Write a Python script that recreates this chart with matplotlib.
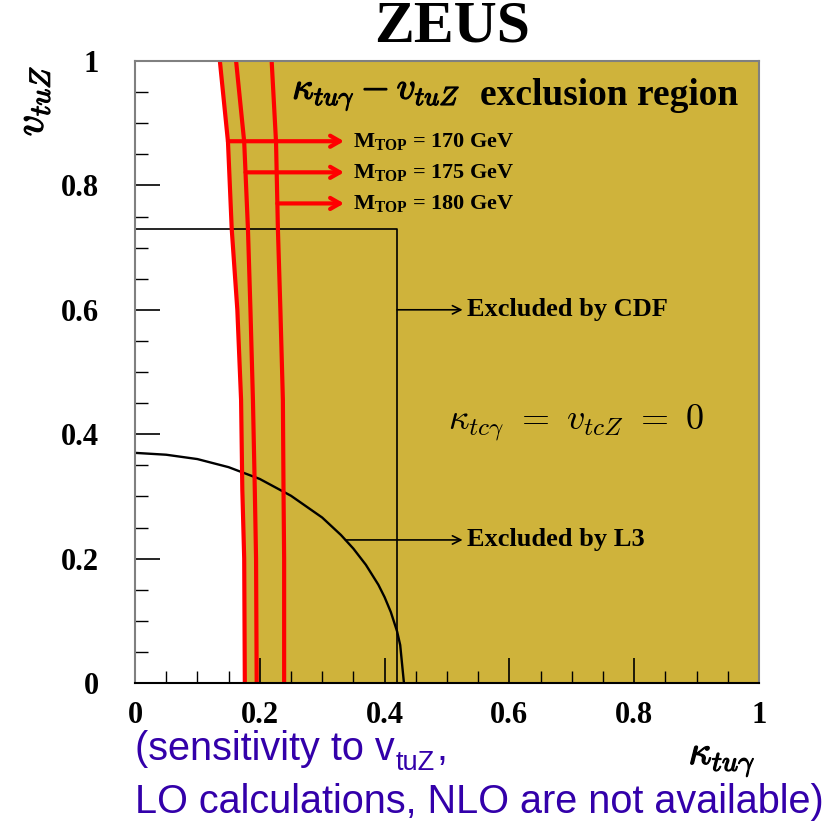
import numpy as np
import matplotlib
matplotlib.use("Agg")
import matplotlib.pyplot as plt
import matplotlib.patheffects as pe

plt.rcParams["mathtext.fontset"] = "custom"
plt.rcParams["mathtext.rm"] = "Liberation Serif:bold"
plt.rcParams["mathtext.bf"] = "Liberation Serif:bold"
plt.rcParams["mathtext.it"] = "Liberation Serif:bold:italic"

# Exclusion contours (kappa_tu_gamma, v_tuZ) for three top masses
v_grid = [0.0, 0.2, 0.31, 0.455, 0.6, 0.73, 0.87, 1.0]
kappa_m170 = [0.176, 0.175, 0.172, 0.170, 0.164, 0.155, 0.149, 0.136]
kappa_m175 = [0.195, 0.194, 0.192, 0.189, 0.185, 0.181, 0.175, 0.162]
kappa_m180 = [0.239, 0.239, 0.238, 0.237, 0.233, 0.229, 0.226, 0.219]
mass_labels = ["170", "175", "180"]
arrow_v = [0.871, 0.821, 0.771]

# CDF limit (box) and L3 limit (curve)
cdf_kappa = 0.42
cdf_v = 0.73
l3_kappa = [0.0, 0.05, 0.10, 0.15, 0.20, 0.25, 0.30, 0.33, 0.35, 0.37, 0.39, 0.40, 0.41, 0.42, 0.425, 0.431]
l3_v = [0.370, 0.367, 0.360, 0.347, 0.328, 0.301, 0.266, 0.238, 0.216, 0.190, 0.158, 0.138, 0.114, 0.083, 0.061, 0.0]

xticks = [0, 0.2, 0.4, 0.6, 0.8, 1]
xticklabels = ["0", "0.2", "0.4", "0.6", "0.8", "1"]
yticks = [0, 0.2, 0.4, 0.6, 0.8, 1]
yticklabels = ["0", "0.2", "0.4", "0.6", "0.8", "1"]

gold = "#CFB33B"
serif = "Liberation Serif"
W, H = 834, 822
heavy = [pe.withStroke(linewidth=0.9, foreground="black")]

fig = plt.figure(figsize=(W / 100, H / 100), dpi=100)
ax = fig.add_axes([135 / W, 1 - 683 / H, 624 / W, 622 / H])
ax.set_xlim(0, 1)
ax.set_ylim(0, 1)

# excluded region right of the M_TOP = 170 GeV contour
ax.fill_betweenx(v_grid, kappa_m170, 1.0, color=gold, lw=0, zorder=1)

# CDF box and L3 curve
ax.plot([0, cdf_kappa, cdf_kappa], [cdf_v, cdf_v, 0], color="black", lw=1.2, zorder=3)
ax.plot(l3_kappa, l3_v, color="black", lw=1.7, zorder=3)

for kap in (kappa_m170, kappa_m175, kappa_m180):
    ax.plot(kap, v_grid, color="red", lw=3.0, zorder=4, solid_capstyle="butt")

# red arrows with mass labels
for kap, v, m in zip((kappa_m170, kappa_m175, kappa_m180), arrow_v, mass_labels):
    x0 = np.interp(v, v_grid, kap)
    ax.annotate("", xy=(0.335, v), xytext=(x0, v),
                arrowprops=dict(arrowstyle="->,head_length=0.7,head_width=0.4",
                                color="red", lw=3.0, shrinkA=0, shrinkB=0), zorder=5)
    ax.text(0.35, v, r"$\mathrm{M}_{\mathrm{TOP}}$ = " + m + " GeV", fontsize=16,
            family=serif, fontweight="bold", va="center", ha="left", zorder=6)

# black arrows for CDF / L3
ax.annotate("", xy=(0.525, 0.60), xytext=(cdf_kappa, 0.60),
            arrowprops=dict(arrowstyle="->,head_length=0.6,head_width=0.3",
                            color="black", lw=1.2, shrinkA=0, shrinkB=0), zorder=5)
ax.text(0.532, 0.60, "Excluded by CDF", fontsize=19, family=serif, fontweight="bold",
        va="center", ha="left")
l3_arrow_v = 0.23
l3_arrow_start = np.interp(-l3_arrow_v, [-v for v in l3_v], l3_kappa)
ax.annotate("", xy=(0.525, l3_arrow_v), xytext=(l3_arrow_start, l3_arrow_v),
            arrowprops=dict(arrowstyle="->,head_length=0.6,head_width=0.3",
                            color="black", lw=1.2, shrinkA=0, shrinkB=0), zorder=5)
ax.text(0.532, l3_arrow_v, "Excluded by L3", fontsize=19, family=serif, fontweight="bold",
        va="center", ha="left")

ax.text(0.707, 0.418, r"$\kappa_{tc\gamma}\ =\ v_{tcZ}\ =\ 0$", fontsize=26,
        math_fontfamily="cm", ha="center", va="center")

ax.text(0.252, 0.945, r"$\kappa_{tu\gamma} - v_{tuZ}$", fontsize=27,
        math_fontfamily="cm", ha="left", va="center", path_effects=heavy)
ax.text(0.553, 0.945, "exclusion region", fontsize=27, family=serif,
        fontweight="bold", ha="left", va="center")

# axes styling
ax.set_xticks(xticks)
ax.set_xticklabels(xticklabels)
ax.set_yticks(yticks)
ax.set_yticklabels(yticklabels)
ax.set_xticks(np.arange(0, 1.0001, 0.05), minor=True)
ax.set_yticks(np.arange(0, 1.0001, 0.05), minor=True)
ax.tick_params(which="major", direction="in", length=18, width=1.2, color="black",
               top=False, right=False, labelsize=22, pad=13)
ax.tick_params(which="minor", direction="in", length=9, width=1.0, color="black",
               top=False, right=False)
ax.tick_params(axis="y", which="major", pad=26)
for lab in ax.get_xticklabels() + ax.get_yticklabels():
    lab.set_fontfamily(serif)
    lab.set_fontweight("bold")
for side in ("left", "right", "top"):
    ax.spines[side].set_color("#808080")
    ax.spines[side].set_linewidth(1.5)
ax.spines["bottom"].set_color("black")
ax.spines["bottom"].set_linewidth(1.5)
for sp in ax.spines.values():
    sp.set_zorder(7)

fig.text(452 / W, 1 - 28 / H, "ZEUS", fontsize=43, family=serif, fontweight="bold",
         ha="center", va="center")
fig.text(31 / W, 1 - 101 / H, r"$v_{tuZ}$", fontsize=30, math_fontfamily="cm",
         rotation=90, ha="center", va="center", path_effects=heavy)
fig.text(722 / W, 1 - 759 / H, r"$\kappa_{tu\gamma}$", fontsize=29, math_fontfamily="cm",
         ha="center", va="center", path_effects=heavy)

# note below the plot, in two lines; subscript set as a smaller, lowered piece
blue = "#3300AA"
sans = "Liberation Sans"
fig.canvas.draw()
renderer = fig.canvas.get_renderer()
t1 = fig.text(135 / W, 1 - 760 / H, "(sensitivity to v", fontsize=28.5, family=sans,
              color=blue, ha="left", va="baseline")
x_end = t1.get_window_extent(renderer).x1
t2 = fig.text(x_end / W + 1 / W, 1 - 770 / H, "tuZ", fontsize=19.5, family=sans,
              color=blue, ha="left", va="baseline")
x_end2 = t2.get_window_extent(renderer).x1
fig.text(x_end2 / W + 1 / W, 1 - 760 / H, ",", fontsize=28.5, family=sans,
         color=blue, ha="left", va="baseline")
fig.text(135 / W, 1 - 813 / H, "LO calculations, NLO are not available)", fontsize=28.5,
         family=sans, color=blue, ha="left", va="baseline")

fig.savefig("out.png", dpi=100)
